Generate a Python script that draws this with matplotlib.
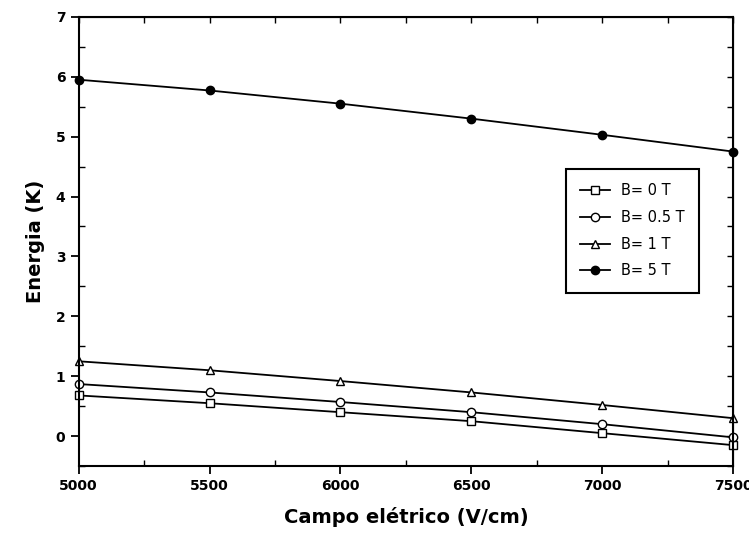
import numpy as np
import matplotlib.pyplot as plt
from matplotlib.ticker import MultipleLocator, NullFormatter

campo = [5000, 5500, 6000, 6500, 7000, 7500]
e_b0 = [0.68, 0.55, 0.40, 0.25, 0.05, -0.15]
e_b05 = [0.87, 0.73, 0.57, 0.40, 0.20, -0.02]
e_b1 = [1.25, 1.10, 0.92, 0.73, 0.52, 0.30]
e_b5 = [5.95, 5.77, 5.55, 5.30, 5.03, 4.75]

fig = plt.figure(figsize=(7.49, 5.42), dpi=100)
ax = fig.add_axes([0.105, 0.14, 0.874, 0.829])

kw = dict(color='black', lw=1.3, ms=6, mfc='white', mew=1.0, clip_on=False)
ax.plot(campo, e_b0, marker='s', label='B= 0 T', **kw)
ax.plot(campo, e_b05, marker='o', label='B= 0.5 T', **kw)
ax.plot(campo, e_b1, marker='^', label='B= 1 T', **kw)
ax.plot(campo, e_b5, marker='o', color='black', lw=1.3, ms=6, mfc='black',
        clip_on=False, label='B= 5 T')

ax.set_xlim(5000, 7500)
ax.set_ylim(-0.5, 7)
ax.xaxis.set_major_locator(MultipleLocator(500))
ax.xaxis.set_minor_locator(MultipleLocator(250))
ax.yaxis.set_major_locator(MultipleLocator(1))
ax.yaxis.set_minor_locator(MultipleLocator(0.5))
ax.tick_params(which='major', direction='out', length=6, width=1.3, labelsize=10)
ax.tick_params(which='minor', direction='in', length=4, width=1.0)
for lab in ax.get_xticklabels() + ax.get_yticklabels():
    lab.set_fontweight('bold')
for s in ax.spines.values():
    s.set_linewidth(1.5)

# ticks on top and right, pointing inward
top = ax.secondary_xaxis('top')
top.xaxis.set_major_locator(MultipleLocator(500))
top.xaxis.set_minor_locator(MultipleLocator(250))
top.xaxis.set_major_formatter(NullFormatter())
top.tick_params(which='both', direction='in', length=4, width=1.0)
right = ax.secondary_yaxis('right')
right.yaxis.set_major_locator(MultipleLocator(1))
right.yaxis.set_minor_locator(MultipleLocator(0.5))
right.yaxis.set_major_formatter(NullFormatter())
right.tick_params(which='both', direction='in', length=4, width=1.0)

ax.set_xlabel('Campo elétrico (V/cm)', fontsize=14, fontweight='bold', labelpad=10)
ax.set_ylabel('Energia (K)', fontsize=14, fontweight='bold', labelpad=8)

leg = ax.legend(loc='upper left', bbox_to_anchor=(0.733, 0.678), frameon=True, fancybox=False,
                edgecolor='black', framealpha=1, fontsize=10.5, handlelength=2.0,
                borderpad=1.0, labelspacing=0.8)
leg.get_frame().set_linewidth(1.5)

fig.savefig('out.png', dpi=100)
